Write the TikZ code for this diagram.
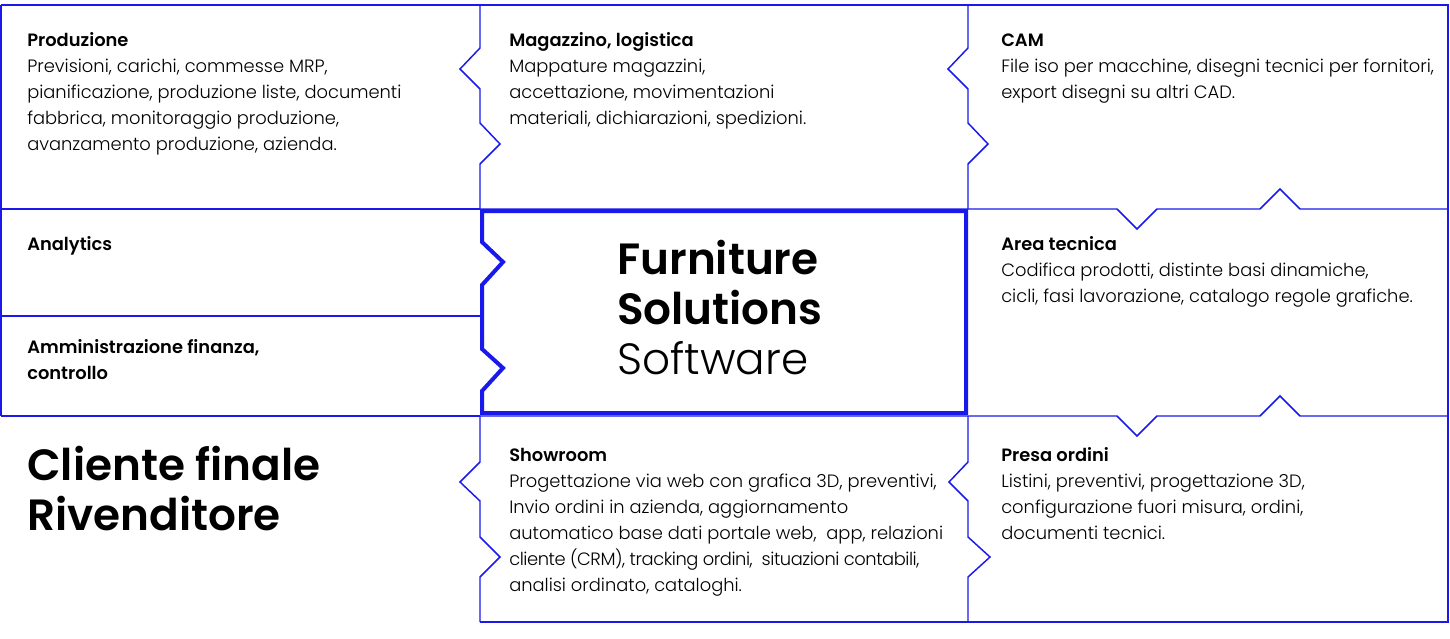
\documentclass[tikz,border=0pt]{standalone}
\usepackage{fontspec}
\setmainfont{Poppins}
\newfontfamily\bodyfont{Poppins Light}
\newfontfamily\tightfont{Poppins Light}[LetterSpace=-2.5]
\newfontfamily\headfont{Poppins SemiBold}
\newfontfamily\titlefont{Poppins SemiBold}
\definecolor{puzzleblue}{RGB}{25,25,235}
\tikzset{
  thinline/.style={draw=puzzleblue, line width=1.1pt, line join=miter},
  thickline/.style={draw=puzzleblue, line width=3pt, line join=miter},
  blocktxt/.style={anchor=base west, inner sep=0pt, align=left,
    font=\bodyfont\fontsize{13.4}{19.5}\selectfont},
  bigtxt/.style={anchor=base west, inner sep=0pt, align=left,
    font=\fontsize{32.8}{37.5}\selectfont}
}
\begin{document}
\begin{tikzpicture}[x=0.75pt, y=-0.75pt]
  \useasboundingbox (0,0) rectangle (1450,639);

  % left column
  \draw[thinline] (1,5) -- (480,5);
  \draw[thinline] (1,5) -- (1,416);
  \draw[thinline] (1,209) -- (480,209);
  \draw[thinline] (1,316) -- (480,316);
  \draw[thinline] (1,416) -- (480,416);

  % middle and right columns
  \draw[thinline] (480,5) -- (1448,5) -- (1448,622) -- (480,622);
  \draw[thinline] (480,5) -- (480,48) -- (460,69) -- (480,89) -- (480,123)
    -- (500,144) -- (480,164) -- (480,209);
  \draw[thinline] (480,416) -- (480,462) -- (460,482) -- (480,501) -- (480,537)
    -- (500,557) -- (480,577) -- (480,622);
  \draw[thinline] (968,5) -- (968,48) -- (948,69) -- (968,89) -- (968,123)
    -- (988,144) -- (968,164) -- (968,209);
  \draw[thinline] (968,416) -- (968,462) -- (949,482) -- (968,501) -- (968,537)
    -- (990,557) -- (968,577) -- (968,622);
  \draw[thinline] (480,209) -- (1117,209) -- (1137,229) -- (1157,209) -- (1260,209)
    -- (1280,189) -- (1300,209) -- (1448,209);
  \draw[thinline] (480,416) -- (1117,416) -- (1137,436) -- (1157,416) -- (1260,416)
    -- (1280,396) -- (1300,416) -- (1448,416);

  % centre piece
  \draw[thickline] (482,211) -- (966,211) -- (966,413) -- (482,413) -- (482,391)
    -- (503,368) -- (482,349) -- (482,285) -- (503,262) -- (482,242) -- cycle;

  % texts (base = last line)
  \node[blocktxt] (prod) at (27,150) {{\headfont Produzione}\\
    Previsioni, carichi, commesse MRP,\\
    pianificazione, produzione liste, documenti\\
    fabbrica, monitoraggio produzione,\\
    avanzamento produzione, azienda.};
  \node[blocktxt] (mag) at (509,124) {{\headfont Magazzino, logistica}\\
    Mappature magazzini,\\
    accettazione, movimentazioni\\
    materiali, dichiarazioni, spedizioni.};
  \node[blocktxt] (cam) at (1001,98) {{\headfont CAM}\\
    File iso per macchine, disegni tecnici per fornitori,\\
    export disegni su altri CAD.};
  \node[blocktxt] (analytics) at (27,250) {{\headfont Analytics}};
  \node[blocktxt] (admin) at (27,379) {\headfont Amministrazione finanza,\\
    \headfont controllo};
  \node[blocktxt] (tecnica) at (1001,302) {{\headfont Area tecnica}\\
    Codifica prodotti, distinte basi dinamiche,\\
    cicli, fasi lavorazione, catalogo regole grafiche.};
  \node[blocktxt] (show) at (509,591) {{\headfont Showroom}\\
    Progettazione via web con grafica 3D, preventivi,\\
    Invio ordini in azienda, aggiornamento\\
    automatico base dati portale web,\ \ app, relazioni\\
    {\tightfont cliente (CRM), tracking ordini,\ \ situazioni contabili,}\\
    analisi ordinato, cataloghi.};
  \node[blocktxt] (ordini) at (1001,539) {{\headfont Presa ordini}\\
    Listini, preventivi, progettazione 3D,\\
    configurazione fuori misura, ordini,\\
    documenti tecnici.};
  \node[bigtxt] (fss) at (617,374) {\titlefont Furniture\\
    \titlefont Solutions\\
    \bodyfont Software};
  \node[bigtxt] (cliente) at (27,530) {\titlefont Cliente finale\\
    \titlefont Rivenditore};
\end{tikzpicture}
\end{document}
